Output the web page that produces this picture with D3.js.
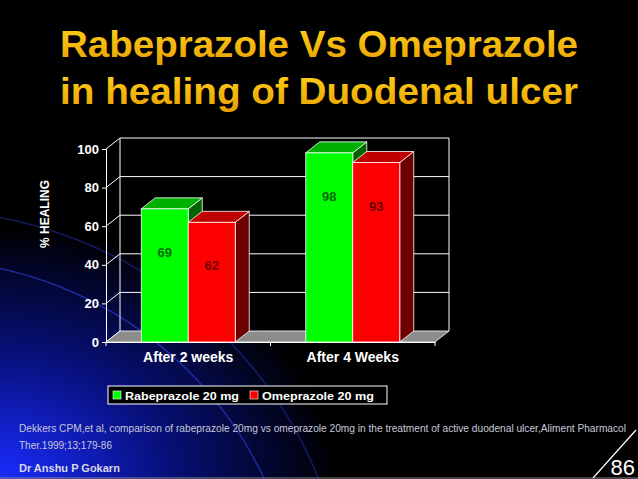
<!DOCTYPE html>
<html><head><meta charset="utf-8">
<script src="https://cdn.jsdelivr.net/npm/d3@7"></script>
<style>body{margin:0;background:#000;overflow:hidden}</style>
</head><body>
<script>
var categories = ["After 2 weeks", "After 4 Weeks"];
var seriesNames = ["Rabeprazole 20 mg", "Omeprazole 20 mg"];
var rabeprazole = [69, 98];
var omeprazole = [62, 93];
var yTicks = [0, 20, 40, 60, 80, 100];

var W = 638, H = 479, dx = 14, dy = -11;
var svg = d3.select("body").append("svg").attr("width", W).attr("height", H);
var defs = svg.append("defs");
var rg = defs.append("radialGradient").attr("id", "bg").attr("cx", "0").attr("cy", "1").attr("r", "0.75");
rg.append("stop").attr("offset", "0").attr("stop-color", "#1a2cff");
rg.append("stop").attr("offset", "0.35").attr("stop-color", "#07107a");
rg.append("stop").attr("offset", "0.7").attr("stop-color", "#000");
svg.append("rect").attr("width", W).attr("height", H).attr("fill", "#000");
svg.append("rect").attr("width", W).attr("height", H).attr("fill", "url(#bg)");
// decorative arcs
[[380, 0.5], [430, 0.35]].forEach(function (a) {
  svg.append("circle").attr("cx", -80).attr("cy", 640).attr("r", a[0])
    .attr("fill", "none").attr("stroke", "#3a4cff").attr("stroke-opacity", a[1]).attr("stroke-width", 1.5);
});

var tg = defs.append("linearGradient").attr("id", "tt").attr("x1", 0).attr("y1", 0).attr("x2", 0).attr("y2", 1);
tg.append("stop").attr("offset", 0).attr("stop-color", "#ffd21a");
tg.append("stop").attr("offset", 1).attr("stop-color", "#e8a000");
["Rabeprazole Vs Omeprazole", "in healing of Duodenal ulcer"].forEach(function (t, i) {
  svg.append("text").attr("x", 60).attr("y", 57 + i * 47).text(t)
    .attr("font-family", "Liberation Sans, Arial").attr("font-weight", "bold")
    .attr("font-size", 36).attr("textLength", i === 0 ? 518 : 518).attr("lengthAdjust", "spacingAndGlyphs")
    .attr("fill", "url(#tt)");
});

var x0 = 106, x1 = 435, y0 = 342, y1 = 149;
var x = d3.scaleBand().domain(categories).range([x0, x1]).paddingInner(0).paddingOuter(0);
var xs = d3.scaleBand().domain(seriesNames).range([0, x.bandwidth()]).paddingInner(0).paddingOuter(0.75);
var y = d3.scaleLinear().domain([0, 100]).range([y0, y1]);
var g = svg.append("g");

// back wall gridlines and side wall lines
yTicks.forEach(function (t) {
  if (t > 0) g.append("line").attr("x1", x0 + dx).attr("x2", x1 + dx).attr("y1", y(t) + dy).attr("y2", y(t) + dy).attr("stroke", "#fff");
  g.append("line").attr("x1", x0).attr("x2", x0 + dx).attr("y1", y(t)).attr("y2", y(t) + dy).attr("stroke", "#fff");
});
g.append("line").attr("x1", x0 + dx).attr("x2", x0 + dx).attr("y1", y(0) + dy).attr("y2", y(100) + dy).attr("stroke", "#fff");
g.append("line").attr("x1", x1 + dx).attr("x2", x1 + dx).attr("y1", y(0) + dy).attr("y2", y(100) + dy).attr("stroke", "#fff");
// floor
g.append("path").attr("d", "M" + x0 + "," + y0 + "L" + (x0 + dx) + "," + (y0 + dy) + "L" + (x1 + dx) + "," + (y0 + dy) + "L" + x1 + "," + y0 + "Z")
  .attr("fill", "#8c8c8c").attr("stroke", "#fff").attr("stroke-width", 0.8);

var series = [
  { name: seriesNames[0], vals: rabeprazole, front: "#00ff00", top: "#00b000", side: "#006400", label: "#0a6a0a" },
  { name: seriesNames[1], vals: omeprazole, front: "#ff0000", top: "#c00000", side: "#700000", label: "#6a0000" }
];
categories.forEach(function (c, ci) {
  series.forEach(function (s) {
    var bx = x(c) + xs(s.name), bw = xs.bandwidth(), by = y(s.vals[ci]);
    g.append("path").attr("d", "M" + (bx + bw) + "," + by + "l" + dx + "," + dy + "L" + (bx + bw + dx) + "," + (y0 + dy) + "L" + (bx + bw) + "," + y0 + "Z")
      .attr("fill", s.side).attr("stroke", "#fff").attr("stroke-width", 0.8);
    g.append("path").attr("d", "M" + bx + "," + by + "l" + dx + "," + dy + "l" + bw + ",0l" + (-dx) + "," + (-dy) + "Z")
      .attr("fill", s.top).attr("stroke", "#fff").attr("stroke-width", 0.8);
    g.append("rect").attr("x", bx).attr("y", by).attr("width", bw).attr("height", y0 - by)
      .attr("fill", s.front).attr("stroke", "#fff").attr("stroke-width", 0.8);
    g.append("text").attr("x", bx + bw / 2).attr("y", by + 48).attr("text-anchor", "middle")
      .attr("font-family", "Liberation Sans, Arial").attr("font-weight", "bold").attr("font-size", 13)
      .attr("fill", s.label).text(s.vals[ci]);
  });
});

var ya = g.append("g").attr("transform", "translate(" + x0 + ",0)")
  .call(d3.axisLeft(y).tickValues(yTicks).tickSize(4).tickPadding(3));
var xa = g.append("g").attr("transform", "translate(0," + y0 + ")")
  .call(d3.axisBottom(x).tickSize(0).tickPadding(10));
[ya, xa].forEach(function (a) {
  a.selectAll("path,line").attr("stroke", "#fff");
  a.selectAll("text").attr("fill", "#fff").attr("font-family", "Liberation Sans, Arial").attr("font-weight", "bold").attr("font-size", 13);
});
xa.selectAll("text").attr("font-size", 14);
// category separator ticks
[x0, x0 + x.bandwidth(), x1].forEach(function (t) {
  g.append("line").attr("x1", t).attr("x2", t).attr("y1", y0).attr("y2", y0 + 4).attr("stroke", "#fff");
});

svg.append("text").attr("transform", "translate(49,214) rotate(-90)").attr("text-anchor", "middle")
  .attr("font-family", "Liberation Sans, Arial").attr("font-weight", "bold").attr("font-size", 12)
  .attr("fill", "#fff").text("% HEALING");

// legend
var lg = svg.append("g");
lg.append("rect").attr("x", 108).attr("y", 386).attr("width", 279).attr("height", 18).attr("fill", "#000").attr("stroke", "#fff");
var lx = [113, 250];
series.forEach(function (s, i) {
  lg.append("rect").attr("x", lx[i]).attr("y", 391).attr("width", 8).attr("height", 8).attr("fill", s.front).attr("stroke", "#fff").attr("stroke-width", 0.6);
  lg.append("text").attr("x", lx[i] + 12).attr("y", 399.5).text(s.name)
    .attr("font-family", "Liberation Sans, Arial").attr("font-weight", "bold").attr("font-size", 11.5)
    .attr("textLength", i === 0 ? 114 : 112).attr("lengthAdjust", "spacingAndGlyphs").attr("fill", "#fff");
});

// citation and footer
["Dekkers CPM,et al, comparison of rabeprazole 20mg vs omeprazole 20mg in the treatment of active duodenal ulcer,Aliment Pharmacol", "Ther.1999;13;179-86"].forEach(function (t, i) {
  svg.append("text").attr("x", 19).attr("y", 432 + i * 17).text(t)
    .attr("font-family", "Liberation Sans Narrow, Liberation Sans, Arial").attr("font-size", 10)
    .attr("textLength", i === 0 ? 607 : 93).attr("lengthAdjust", "spacingAndGlyphs").attr("fill", "#c8c8d8");
});
svg.append("text").attr("x", 19).attr("y", 472).text("Dr Anshu P Gokarn")
  .attr("font-family", "Liberation Sans, Arial").attr("font-weight", "bold").attr("font-size", 11).attr("fill", "#d8d8e8");
svg.append("line").attr("x1", 0).attr("x2", W).attr("y1", 478).attr("y2", 478).attr("stroke", "#888");
svg.append("line").attr("x1", 593).attr("x2", 636).attr("y1", 478).attr("y2", 430).attr("stroke", "#fff").attr("stroke-width", 1.2);
svg.append("text").attr("x", 635).attr("y", 475).attr("text-anchor", "end").text("86")
  .attr("font-family", "Liberation Sans Narrow, Liberation Sans, Arial").attr("font-size", 22).attr("fill", "#fff");
</script>
</body></html>
